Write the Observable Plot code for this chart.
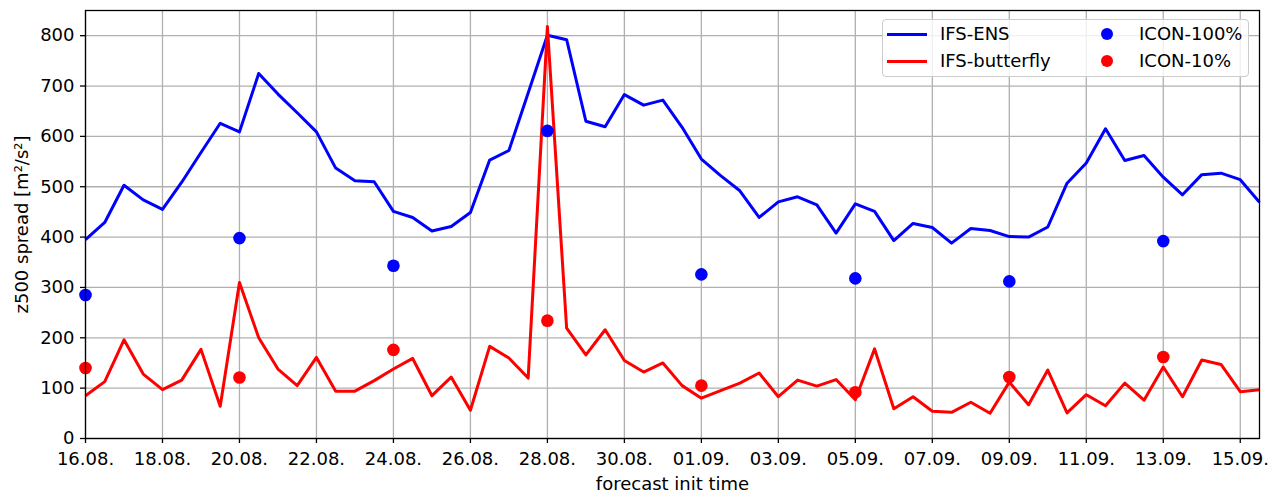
<!DOCTYPE html>
<html>
<head>
<meta charset="utf-8">
<script src="https://cdn.jsdelivr.net/npm/d3@7"></script>
<script src="https://cdn.jsdelivr.net/npm/@observablehq/plot@0.6"></script>
<style>
  html, body { margin: 0; padding: 0; background: #fff; }
  #wrap { position: relative; width: 1277px; height: 495px; font-family: "DejaVu Sans", sans-serif; }
  #legend { position: absolute; left: 882px; top: 19px; width: 367px; height: 58px;
            background: rgba(255,255,255,0.8); border: 1px solid #cccccc; border-radius: 4px;
            box-sizing: border-box; font-size: 18px; color: #000; }
  .lg-line { position: absolute; left: 4px; width: 40px; height: 0; border-top: 3px solid; }
  .lg-dot { position: absolute; width: 12.6px; height: 12.6px; border-radius: 50%; }
  .lg-text { position: absolute; line-height: 1; white-space: nowrap; }
</style>
</head>
<body>
<div id="wrap"><div id="chart"></div><div id="legend"></div></div>
<script>
// ---- data ----
const seriesStart = "2023-08-16T00:00Z";   // first forecast init time
const stepHours = 12;                       // init every 12 h

const ifsEns = [395,429,503,474,455,509,568,626,609,725,684,647,609,537,512,510,
                451,439,412,421,449,553,572,686,801,792,630,619,683,662,672,618,
                555,522,492,439,470,480,464,408,466,451,393,427,419,388,417,413,
                401,400,420,507,547,615,552,562,519,484,524,527,514,469];
const ifsButterfly = [85,113,196,128,97,116,177,64,310,200,138,105,161,94,94,115,
                      138,159,85,122,56,183,160,120,818,219,166,216,155,132,150,105,
                      80,95,110,130,83,116,104,117,77,178,59,83,54,52,72,50,
                      112,67,136,51,87,65,110,76,142,83,156,147,93,97];

const iconDates = ["2023-08-16","2023-08-20","2023-08-24","2023-08-28",
                   "2023-09-01","2023-09-05","2023-09-09","2023-09-13"];
const icon100 = [285,398,343,611,326,318,312,392];
const icon10  = [140,121,176,234,105,92,122,162];

const xTickDates = ["2023-08-16","2023-08-18","2023-08-20","2023-08-22","2023-08-24",
                    "2023-08-26","2023-08-28","2023-08-30","2023-09-01","2023-09-03",
                    "2023-09-05","2023-09-07","2023-09-09","2023-09-11","2023-09-13",
                    "2023-09-15"];
const yTicks = [0,100,200,300,400,500,600,700,800];
const xDomain = ["2023-08-16T00:00Z","2023-09-15T12:00Z"];
const yDomain = [0, 850];

const seriesNames = ["IFS-ENS","IFS-butterfly"];
const iconNames = ["ICON-100%","ICON-10%"];
const colors = ["#0000ff","#ff0000"];

// ---- build tables ----
const t0 = Date.parse(seriesStart);
const times = ifsEns.map((_, i) => new Date(t0 + i * stepHours * 3600e3));
const lineData = [
  ...ifsEns.map((v, i) => ({t: times[i], v, s: seriesNames[0]})),
  ...ifsButterfly.map((v, i) => ({t: times[i], v, s: seriesNames[1]}))
];
const dotData = [
  ...icon100.map((v, i) => ({t: new Date(iconDates[i] + "T00:00Z"), v, s: iconNames[0]})),
  ...icon10.map((v, i) => ({t: new Date(iconDates[i] + "T00:00Z"), v, s: iconNames[1]}))
];
const xTicks = xTickDates.map(d => new Date(d + "T00:00Z"));
const colorOf = {[seriesNames[0]]: colors[0], [seriesNames[1]]: colors[1],
                 [iconNames[0]]: colors[0], [iconNames[1]]: colors[1]};

const gridStyle = {stroke: "#b0b0b0", strokeOpacity: 1, strokeWidth: 1.3};

const chart = Plot.plot({
  width: 1277,
  height: 495,
  marginLeft: 85,
  marginRight: 18,
  marginTop: 10,
  marginBottom: 57,
  style: {fontFamily: "DejaVu Sans", fontSize: "18px", color: "#000", background: "#fff", overflow: "visible"},
  x: {type: "utc", domain: xDomain.map(d => new Date(d))},
  y: {domain: yDomain},
  marks: [
    Plot.gridX(xTicks, gridStyle),
    Plot.gridY(yTicks, gridStyle),
    ...seriesNames.map(name => Plot.line(lineData.filter(d => d.s === name), {
      x: "t", y: "v", stroke: colorOf[name], strokeWidth: 3,
      strokeLinejoin: "round", strokeLinecap: "butt"
    })),
    ...iconNames.map(name => Plot.dot(dotData.filter(d => d.s === name), {
      x: "t", y: "v", r: 6.3, fill: colorOf[name], stroke: "none"
    })),
    Plot.frame({stroke: "#000", strokeWidth: 1.3}),
    Plot.axisX(xTicks, {
      tickSize: 5, tickPadding: 9, strokeWidth: 1.3,
      tickFormat: d3.utcFormat("%d.%m."),
      label: "forecast init time", labelAnchor: "center", labelArrow: "none", labelOffset: 51
    }),
    Plot.axisY(yTicks, {
      tickSize: 5, tickPadding: 6, strokeWidth: 1.3,
      label: "z500 spread [m²/s²]", labelAnchor: "center", labelArrow: "none", labelOffset: 70
    })
  ]
});
document.getElementById("chart").appendChild(chart);

// ---- legend (overlay inside plot area, upper right) ----
const legend = document.getElementById("legend");
const rows = [0, 1];
rows.forEach(i => {
  const top = [14, 41][i];
  const ln = document.createElement("div");
  ln.className = "lg-line";
  ln.style.top = (top - 1.5) + "px";
  ln.style.borderColor = colors[i];
  legend.appendChild(ln);
  const t1 = document.createElement("div");
  t1.className = "lg-text";
  t1.style.left = "57px";
  t1.style.top = (top - 9) + "px";
  t1.textContent = seriesNames[i];
  legend.appendChild(t1);
  const dt = document.createElement("div");
  dt.className = "lg-dot";
  dt.style.left = (224 - 6.3) + "px";
  dt.style.top = (top - 6.3) + "px";
  dt.style.background = colors[i];
  legend.appendChild(dt);
  const t2 = document.createElement("div");
  t2.className = "lg-text";
  t2.style.left = "256px";
  t2.style.top = (top - 9) + "px";
  t2.textContent = iconNames[i];
  legend.appendChild(t2);
});
</script>
</body>
</html>
